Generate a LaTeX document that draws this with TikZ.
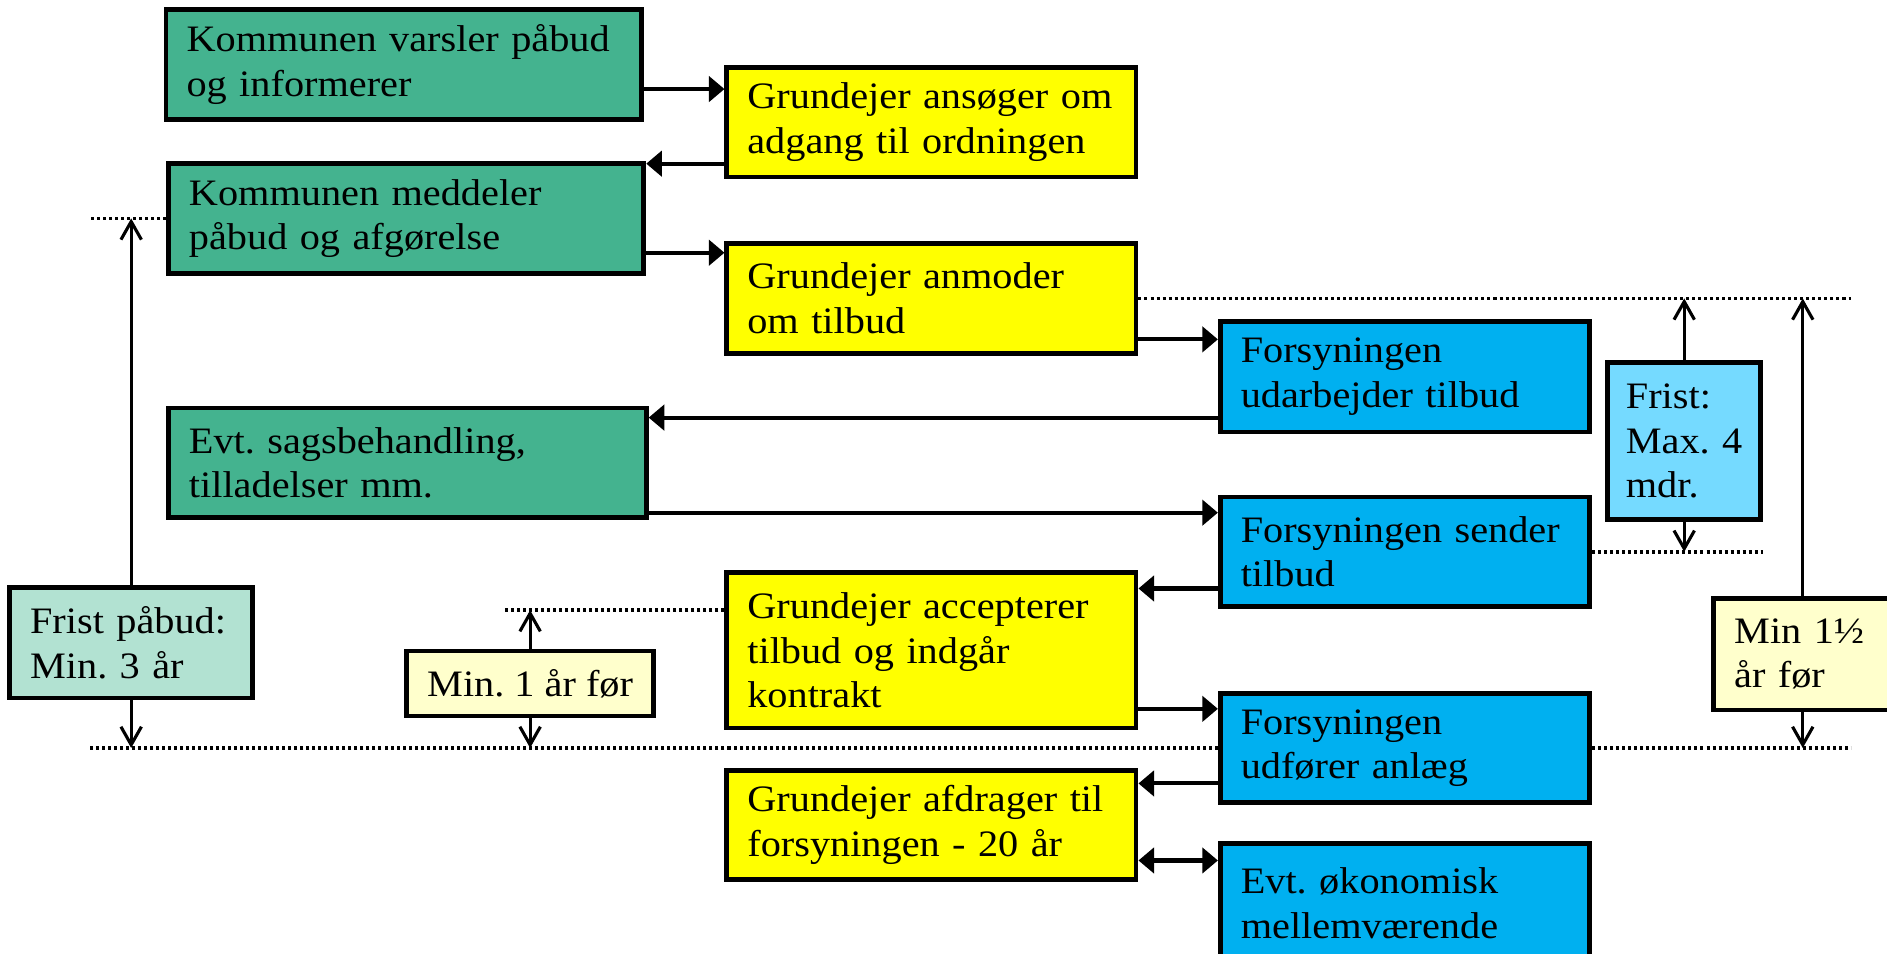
\documentclass[tikz,border=0pt]{standalone}
\usepackage{fontspec}
\setmainfont{Liberation Serif}[FakeStretch=1.08]
\usepackage{tikz}
\usetikzlibrary{arrows.meta,positioning,calc}

\definecolor{kommgreen}{RGB}{68,179,143}
\definecolor{grundyellow}{RGB}{255,255,0}
\definecolor{forsyblue}{RGB}{0,176,240}
\definecolor{fristgreen}{RGB}{178,226,210}
\definecolor{fristblue}{RGB}{117,218,255}
\definecolor{fristyellow}{RGB}{255,255,204}

\tikzset{
  box/.style={draw, rectangle, line width=4pt, inner xsep=17pt, inner ysep=0pt, align=left,
              font=\fontsize{31}{37}\selectfont\frenchspacing},
  bx/.style 2 args={text width=#1, minimum height=#2},
  komm/.style={box, fill=kommgreen},
  grund/.style={box, fill=grundyellow},
  forsy/.style={box, fill=forsyblue},
  conn/.style={line width=3.4pt, -{Triangle[length=13pt,width=21pt]}},
  frist/.style={line width=2.6pt, -{Straight Barb[length=15pt,width=17pt]}},
  dotline/.style={line width=3pt, dash pattern=on 2.5pt off 2.5pt}
}

\begin{document}
\begin{tikzpicture}[x=1pt,y=-1pt]
\clip (0,0) rectangle (1568,792);
% kommunen
\node[komm, bx={361pt}{91pt}] (varsler) at (335.5,53.5) {Kommunen varsler påbud\\og informerer};
\node[komm, bx={361pt}{91pt}] (meddeler) at (337.5,181.5) {Kommunen meddeler\\påbud og afgørelse};
\node[komm, bx={363pt}{91pt}] (sagsbeh) at (338.5,384.5) {Evt. sagsbehandling,\\tilladelser mm.};
% grundejer
\node[grund, bx={306pt}{91pt}] (ansoeger) at (774,101.5) {Grundejer ansøger om\\adgang til ordningen};
\node[grund, bx={306pt}{92pt}] (anmoder) at (774,248) {Grundejer anmoder\\om tilbud};
\node[grund, bx={306pt}{129pt}] (accept) at (774,540.5) {Grundejer accepterer\\tilbud og indgår\\kontrakt};
\node[grund, bx={306pt}{91pt}] (afdrag) at (774,685.5) {Grundejer afdrager til\\forsyningen - 20 år};
% forsyningen
\node[forsy, bx={273pt}{92pt}] (udarb) at (1167.5,313) {Forsyningen\\udarbejder tilbud};
\node[forsy, bx={273pt}{91pt}] (sender) at (1167.5,458.5) {Forsyningen sender\\tilbud};
\node[forsy, bx={273pt}{91pt}] (anlaeg) at (1167.5,621.5) {Forsyningen\\udfører anlæg};
\node[forsy, bx={273pt}{99pt}] (oekonomi) at (1167.5,750.5) {Evt. økonomisk\\mellemværende};
% frister
\node[box, fill=fristgreen, bx={168pt}{92pt}] (fristp) at (109,534) {Frist påbud:\\Min. 3 år};
\node[box, fill=fristyellow, minimum width=205pt, minimum height=54pt] (minet) at (440.5,568) {Min. 1 år før};
\node[box, fill=fristblue, inner xsep=15pt, bx={97pt}{131pt}] (fristmax) at (1399.5,366.5) {Frist:\\Max. 4\\mdr.};
\node[box, fill=fristyellow, bx={114pt}{93pt}] (minhalv) at (1498,543.5) {Min 1½\\år før};

% forloeb
\draw[conn] (varsler.east) ++(0,20.5) coordinate (c1) -- (c1 -| ansoeger.west);
\draw[conn] (meddeler.north east) ++(0,2) coordinate (c2) (c2 -| ansoeger.west) -- (c2);
\draw[conn] (meddeler.east) ++(0,28.5) coordinate (c3) -- (c3 -| anmoder.west);
\draw[conn] (anmoder.east) ++(0,34) coordinate (c4) -- (c4 -| udarb.west);
\draw[conn] (udarb.west) ++(0,34) coordinate (c5) -- (c5 -| sagsbeh.east);
\draw[conn] (sagsbeh.east) ++(0,41.5) coordinate (c6) -- (c6 -| sender.west);
\draw[conn] (sender.west) ++(0,30.5) coordinate (c7) -- (c7 -| accept.east);
\draw[conn] (accept.east) ++(0,48.5) coordinate (c8) -- (c8 -| anlaeg.west);
\draw[conn] (anlaeg.west) ++(0,29.5) coordinate (c9) -- (c9 -| afdrag.east);
\draw[conn, {Triangle[length=13pt,width=21pt]}-{Triangle[length=13pt,width=21pt]}] (afdrag.east) ++(0,29.5) coordinate (c10) -- (c10 -| oekonomi.west);

% tidslinjer
\draw[dotline] (meddeler.west) -- ++(-64,0);
\draw[dotline] (anmoder.east) -- ++(592,0) coordinate (d1);
\draw[dotline] (sender.east) -- (sender.east -| fristmax.east);
\draw[dotline] (accept.west) ++(0,-33.5) coordinate (acctop) -- ++(-184,0);
\draw[dotline] (anlaeg.west) -- ++(-939,0);
\draw[dotline] (anlaeg.east) -- ++(215,0);

\draw[frist] (fristp.north) -- (fristp.north |- meddeler.west);
\draw[frist] (fristp.south) -- (fristp.south |- anlaeg.west);
\draw[frist] (minet.north) -- (minet.north |- acctop);
\draw[frist] (minet.south) -- (minet.south |- anlaeg.west);
\draw[frist] (fristmax.north) -- (fristmax.north |- anmoder.east);
\draw[frist] (fristmax.south) -- (fristmax.south |- sender.east);
\draw[frist] (minhalv.north) -- (minhalv.north |- anmoder.east);
\draw[frist] (minhalv.south) -- (minhalv.south |- anlaeg.west);
\end{tikzpicture}
\end{document}
